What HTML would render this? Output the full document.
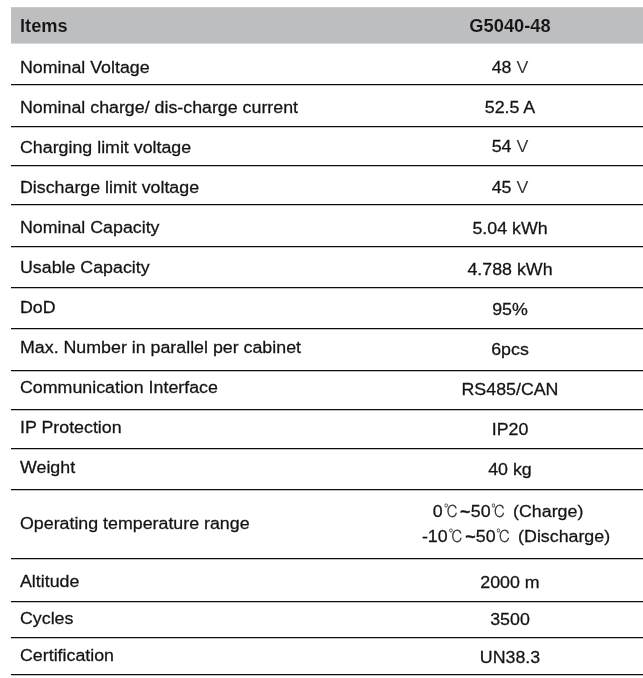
<!DOCTYPE html>
<html><head><meta charset="utf-8"><title>Specifications</title>
<style>
html,body{margin:0;padding:0;background:#fff;}
body{width:643px;height:678px;position:relative;overflow:hidden;font-family:"Liberation Sans","Noto Sans CJK SC",sans-serif;color:#151313;-webkit-text-stroke:0.27px #151313;font-size:17.3px;}
svg{position:absolute;left:0;top:0;}
.t{position:absolute;white-space:nowrap;line-height:20px;height:20px;transform:scaleX(1.03);}
.l{left:20.0px;transform-origin:0 0;}
.r{width:300px;text-align:center;transform-origin:50% 0;}
.b{-webkit-text-stroke:0.12px #bcbec0;font-weight:bold;font-size:17.5px;transform:scaleX(1.045);}
.c{font-family:"IPAGothic","Noto Sans CJK JP",sans-serif;color:#3c3c3c;-webkit-text-stroke:0;display:inline-block;font-size:17.6px;line-height:20px;position:relative;top:1px;transform:scaleX(.82);margin:0 -0.5px 0 -0.9px;}
.w{font-weight:bold;margin-left:0.8px;margin-right:0.3px;}
.ws{word-spacing:0.8px;}
.v{color:#3a3a3a;-webkit-text-stroke:0;}
</style></head><body>
<svg width="643" height="678" viewBox="0 0 643 678">
<rect x="11" y="7.2" width="632" height="36.4" fill="#bcbec0"/>
<g stroke="#0c0c0c" stroke-width="1.25">

<line x1="11" y1="84.5" x2="643" y2="84.5"/>
<line x1="11" y1="126.5" x2="643" y2="126.5"/>
<line x1="11" y1="165.5" x2="643" y2="165.5"/>
<line x1="11" y1="204.5" x2="643" y2="204.5"/>
<line x1="11" y1="246.5" x2="643" y2="246.5"/>
<line x1="11" y1="287.5" x2="643" y2="287.5"/>
<line x1="11" y1="328.5" x2="643" y2="328.5"/>
<line x1="11" y1="370.5" x2="643" y2="370.5"/>
<line x1="11" y1="409.5" x2="643" y2="409.5"/>
<line x1="11" y1="448.5" x2="643" y2="448.5"/>
<line x1="11" y1="489.5" x2="643" y2="489.5"/>
<line x1="11" y1="558.5" x2="643" y2="558.5"/>
<line x1="11" y1="601.5" x2="643" y2="601.5"/>
<line x1="11" y1="637.5" x2="643" y2="637.5"/>
<line x1="11" y1="674.5" x2="643" y2="674.5"/>
</g></svg>
<div class="t l b" style="top:16px;left:19.7px">Items</div>
<div class="t l" style="top:57px">Nominal Voltage</div>
<div class="t l" style="top:97px">Nominal charge/ dis-charge current</div>
<div class="t l" style="top:137px">Charging limit voltage</div>
<div class="t l" style="top:177px">Discharge limit voltage</div>
<div class="t l" style="top:217px">Nominal Capacity</div>
<div class="t l" style="top:257px">Usable Capacity</div>
<div class="t l" style="top:297px">DoD</div>
<div class="t l" style="top:337px">Max. Number in parallel per cabinet</div>
<div class="t l" style="top:377px">Communication Interface</div>
<div class="t l" style="top:417px">IP Protection</div>
<div class="t l" style="top:457px">Weight</div>
<div class="t l" style="top:513px">Operating temperature range</div>
<div class="t l" style="top:571px">Altitude</div>
<div class="t l" style="top:608px">Cycles</div>
<div class="t l" style="top:645px">Certification</div>
<div class="t r b" style="top:16px;left:360.4px">G5040-48</div>
<div class="t r" style="top:57px;left:360.0px">48<span class="v"> V</span></div>
<div class="t r" style="top:97px;left:360.3px">52.5 A</div>
<div class="t r" style="top:136px;left:360.0px">54<span class="v"> V</span></div>
<div class="t r" style="top:177px;left:360.0px">45<span class="v"> V</span></div>
<div class="t r" style="top:218px;left:360.0px">5.04 kWh</div>
<div class="t r" style="top:259px;left:360.3px">4.788 kWh</div>
<div class="t r" style="top:299px;left:360.0px">95%</div>
<div class="t r" style="top:339px;left:360.1px">6pcs</div>
<div class="t r" style="top:379px;left:360.2px">RS485/CAN</div>
<div class="t r" style="top:419px;left:359.9px">IP20</div>
<div class="t r" style="top:459px;left:359.8px">40 kg</div>
<div class="t r" style="top:501px;left:358.0px"><span class="ws">0<span class="c">℃</span><span class="w">~</span>50<span class="c">℃</span> (Charge)</span></div>
<div class="t r" style="top:526px;left:365.8px"><span class="ws">-10<span class="c">℃</span><span class="w">~</span>50<span class="c">℃</span> (Discharge)</span></div>
<div class="t r" style="top:572px;left:360.2px">2000 m</div>
<div class="t r" style="top:609px;left:360.0px">3500</div>
<div class="t r" style="top:647px;left:360.2px">UN38.3</div>
</body></html>
